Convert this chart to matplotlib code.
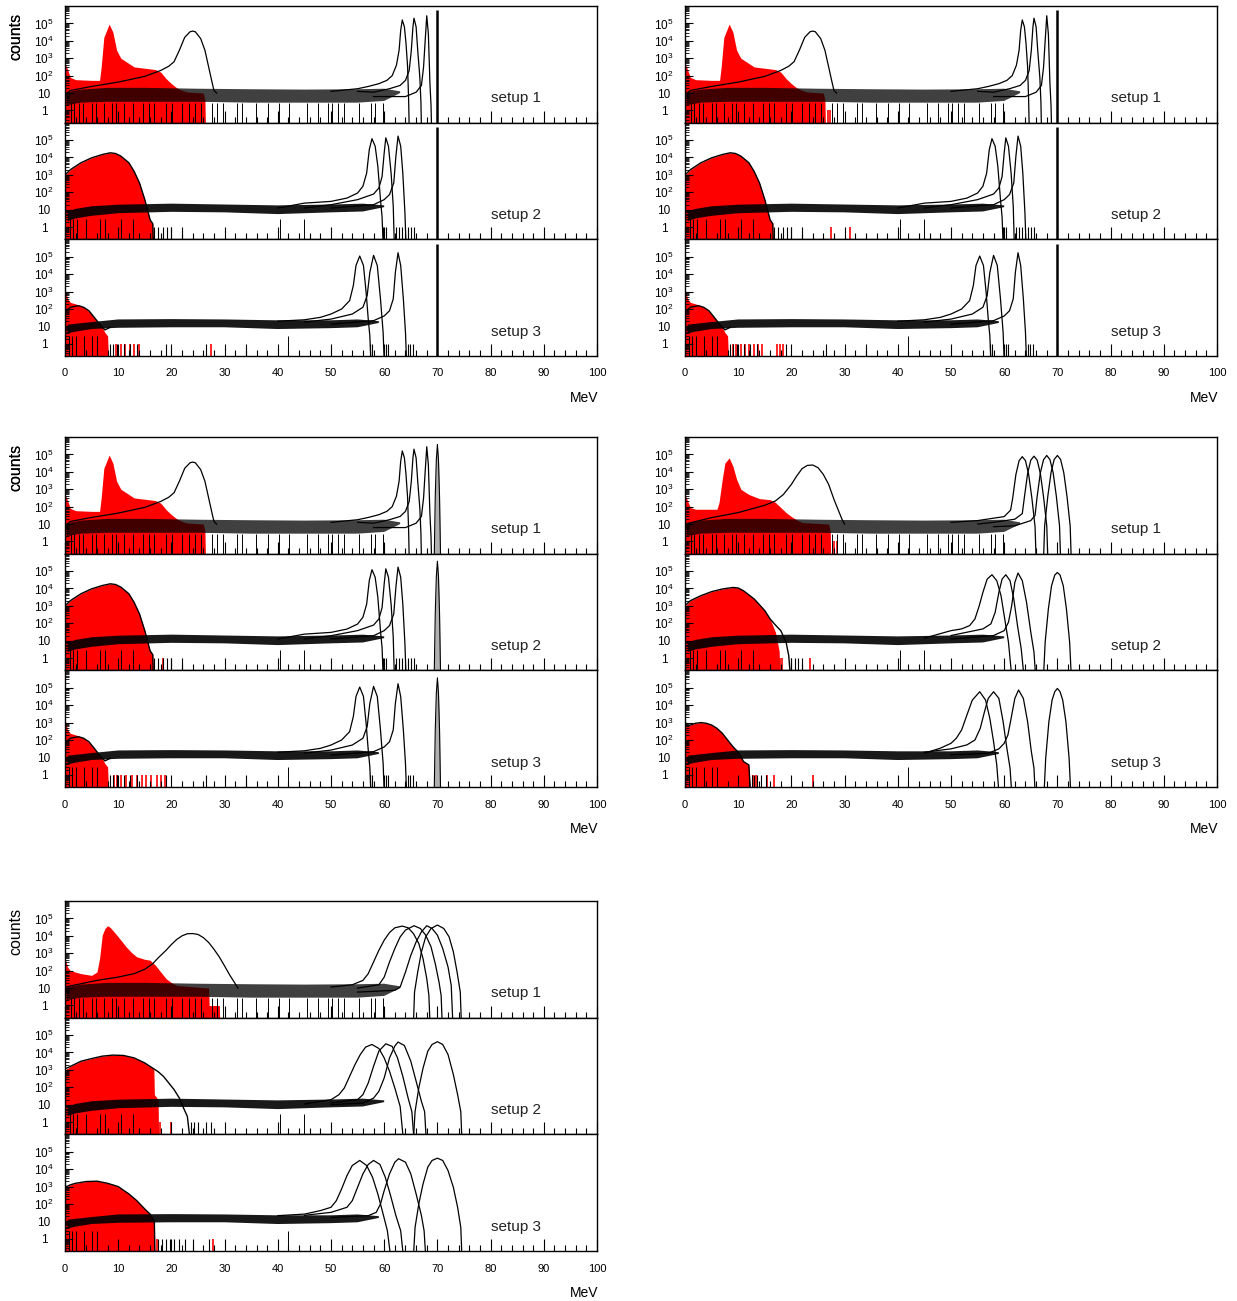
import numpy as np
import matplotlib.pyplot as plt
from matplotlib.ticker import MultipleLocator, LogLocator, NullFormatter

plt.rcParams['font.family'] = ['Liberation Sans', 'DejaVu Sans']
plt.rcParams['mathtext.fontset'] = 'custom'
plt.rcParams['mathtext.rm'] = 'Liberation Sans'
plt.rcParams['mathtext.it'] = 'Liberation Sans:italic'
plt.rcParams['mathtext.bf'] = 'Liberation Sans:bold'

W, H = 1237, 1301
YMIN, YMAX = 0.2, 1.0e6
E = -1.0   # log10 of an empty bin (falls below the axis)

# all curves: (MeV, log10 counts)

# ---- narrow resolution (top row + middle left) ----
red_n1 = [(0, 2.7), (0.3, 2.5), (1, 1.9), (2, 1.77), (5, 1.73), (6.5, 1.73), (6.8, 2.5), (7.3, 4.2),
          (8.3, 4.96), (9.0, 4.5), (9.7, 3.46), (10.5, 3.0), (12, 2.7), (13, 2.5), (17, 2.35), (18, 2.2),
          (19, 1.83), (20, 1.54), (21, 1.3), (22, 1.15), (23, 1.06), (26, 1.0), (26.3, 0.6), (26.4, E)]
a_n = [(0, 0.9), (1, 1.15), (5, 1.38), (10, 1.63), (15, 1.96), (18, 2.3), (19.5, 2.54), (20.5, 2.8),
       (21.5, 3.46), (22.5, 4.2), (23.5, 4.52), (24, 4.56), (24.5, 4.52), (25.5, 4.13), (26.3, 3.46),
       (27, 2.5), (27.7, 1.54), (28, 1.15), (28.5, 1.0)]
b_n1 = [(50, 1.1), (55, 1.25), (57, 1.38), (59, 1.54), (60.5, 1.73), (61.5, 2.0), (62.3, 2.6), (62.8, 3.46),
        (63.1, 4.6), (63.4, 5.2), (63.8, 4.8), (64.1, 3.85), (64.4, 2.5), (64.6, 0.5), (64.7, E)]
c_n1 = [(55, 1.1), (58, 1.05), (61, 1.25), (63, 1.44), (64, 1.73), (64.7, 2.3), (65.1, 3.46), (65.4, 4.8),
        (65.6, 5.3), (66.0, 4.8), (66.3, 3.46), (66.7, 1.9), (66.9, 0.5), (67.0, E)]
d_n1 = [(58, 0.8), (64, 0.8), (66, 1.05), (67, 1.44), (67.4, 2.5), (67.7, 4.0), (68.0, 5.44), (68.3, 4.4),
        (68.6, 1.54), (68.8, 0.3), (68.9, E)]

red_n2 = [(0, 3.0), (1, 3.3), (3, 3.7), (5, 3.98), (7, 4.17), (8.5, 4.27), (9.5, 4.23), (10.5, 4.08),
          (12, 3.7), (13, 3.2), (14, 2.54), (15, 1.58), (15.5, 1.0), (16, 0.42), (16.5, 0.2), (16.6, E)]
b_n2 = [(40, 1.1), (45, 1.38), (50, 1.48), (53, 1.67), (55, 1.96), (56, 2.35), (56.7, 3.1), (57.2, 4.46),
        (57.7, 5.08), (58.3, 4.65), (58.8, 3.5), (59.3, 1.58), (59.6, 0.6), (59.8, E)]
c_n2 = [(45, 1.1), (50, 1.29), (55, 1.58), (58, 1.9), (59, 2.25), (59.6, 2.9), (60, 4.27), (60.3, 5.13),
        (60.8, 4.65), (61.3, 3.1), (61.7, 1.2), (61.9, E)]
d_n2 = [(50, 1.1), (58, 1.29), (60, 1.58), (61, 1.87), (61.8, 2.54), (62.2, 4.08), (62.6, 5.23),
        (63.1, 4.65), (63.5, 3.1), (63.9, 0.8), (64.1, E)]

red_n3 = [(0, 3.15), (0.5, 2.58), (1, 2.38), (2, 2.29), (3, 2.19), (4, 2.0), (5, 1.71), (6, 1.33),
          (7, 0.94), (7.5, 0.65), (8, 0.46), (8.2, E)]
out_n3 = [(0.2, 1.9), (1, 2.1), (2.5, 2.19), (3.5, 2.1), (4.5, 1.9), (5.5, 1.52), (6.5, 1.13),
          (7.5, 0.8), (8.5, 0.95)]
b_n3 = [(40, 1.3), (45, 1.38), (48, 1.52), (50, 1.71), (52, 2.0), (53.5, 2.48), (54.2, 3.35), (54.7, 4.5),
        (55.4, 5.04), (56.1, 4.5), (56.6, 2.96), (57.0, 1.42), (57.3, 0.46), (57.5, E)]
c_n3 = [(45, 1.25), (50, 1.42), (54, 1.71), (56, 2.1), (56.8, 2.77), (57.3, 4.1), (58.0, 5.08),
        (58.7, 4.5), (59.3, 2.58), (59.8, 0.65), (60.0, E)]
d_n3 = [(50, 1.13), (58, 1.33), (60, 1.6), (61, 1.9), (61.7, 2.58), (62.1, 4.1), (62.6, 5.23),
        (63.1, 4.5), (63.6, 2.58), (64.0, 0.65), (64.2, E)]

delta_top = 5.75
narrow70 = [(69.4, E), (69.6, 2.6), (69.8, 4.7), (70.0, 5.57), (70.2, 4.7), (70.4, 2.6), (70.6, E)]

# ---- medium resolution (middle right) ----
red_m1 = [(0, 2.7), (1, 1.95), (2, 1.85), (6, 1.85), (6.4, 2.24), (7, 3.57), (7.5, 4.5), (8.3, 4.8),
          (9, 4.33), (9.7, 3.57), (10.5, 3.0), (12, 2.7), (14, 2.46), (16, 2.4), (17, 2.24), (18, 1.95),
          (19, 1.66), (20, 1.43), (21, 1.24), (22, 1.09), (27, 1.0), (27.3, 0.6), (27.4, E)]
a_m = [(0, 1.0), (5, 1.37), (10, 1.66), (15, 2.08), (17, 2.33), (18.5, 2.7), (20, 3.28), (21, 3.76),
       (22, 4.18), (23, 4.37), (24, 4.39), (25, 4.24), (26, 3.85), (27, 3.28), (28, 2.42), (29, 1.66),
       (29.5, 1.28), (30, 1.0)]
b_m1 = [(50, 1.1), (55, 1.2), (60, 1.43), (61.2, 1.8), (61.6, 2.5), (62.2, 3.85), (62.8, 4.64), (63.4, 4.87),
        (64.0, 4.64), (64.6, 3.85), (65.2, 2.5), (65.8, 0.85), (66.0, E)]
c_m1 = [(55, 1.0), (58, 1.1), (62, 1.28), (63.4, 1.6), (63.8, 2.55), (64.4, 3.9), (65.0, 4.67), (65.6, 4.9),
        (66.2, 4.67), (66.8, 3.9), (67.4, 2.55), (68.0, 0.9), (68.2, E)]
d_m1 = [(58, 0.85), (62, 0.9), (65, 1.2), (65.8, 1.5), (66.2, 2.6), (66.8, 3.95), (67.4, 4.7), (68.0, 4.94),
        (68.6, 4.7), (69.2, 3.95), (69.8, 2.6), (70.4, 0.9), (70.6, E)]
e_m1 = [(67.4, E), (67.6, 0.9), (68.2, 2.6), (68.8, 3.95), (69.4, 4.71), (70.0, 4.94), (70.6, 4.71),
        (71.2, 3.95), (71.8, 2.6), (72.4, 0.9), (72.6, E)]

red_m2 = [(0, 3.0), (1, 3.3), (3, 3.59), (5, 3.82), (7, 3.97), (9, 4.06), (10, 4.03), (11, 3.87), (13, 3.4),
          (15, 2.73), (16, 2.25), (17, 1.49), (17.5, 0.73), (17.7, 0.4), (17.8, E)]
out_m2 = [(0.3, 3.1), (1, 3.3), (3, 3.59), (5, 3.82), (7, 3.97), (9, 4.06), (10, 4.03), (11, 3.87),
          (13, 3.4), (15, 2.73), (16, 2.25), (17, 1.9), (18, 1.58), (19, 0.92), (19.5, 0.15), (19.8, E)]
b_m2 = [(45, 1.15), (50, 1.58), (52, 1.68), (53.5, 1.87), (54.5, 2.25), (55.3, 3.0), (56, 3.78),
        (56.8, 4.54), (57.7, 4.79), (58.6, 4.45), (59.4, 3.59), (60.1, 2.25), (60.8, 0.92), (61.4, E)]
c_m2 = [(50, 1.3), (56, 1.68), (57.5, 1.97), (58.3, 2.63), (59, 3.78), (59.6, 4.54), (60.3, 4.79),
        (61.1, 4.45), (61.8, 3.4), (62.5, 1.87), (63.2, 0.53), (63.7, E)]
d_m2 = [(50, 1.1), (58, 1.3), (60, 1.58), (60.8, 2.06), (61.4, 3.0), (62, 4.35), (62.6, 4.89), (63.4, 4.45),
        (64.2, 3.2), (65, 1.49), (65.6, 0.34), (65.9, E)]
e_m2 = [(67.4, E), (67.7, 0.92), (68.3, 2.82), (68.9, 4.16), (69.5, 4.77), (70, 4.92), (70.5, 4.77),
        (71.1, 4.16), (71.7, 2.82), (72.3, 0.92), (72.6, E)]

red_m3 = [(0, 3.05), (0.5, 2.77), (1, 2.86), (2, 2.96), (3, 3.0), (4, 2.96), (5, 2.86), (6, 2.67), (7, 2.39),
          (8, 2.0), (9, 1.62), (10, 1.3), (10.5, 1.05), (11, 0.76), (12, 0.57), (12.3, E)]
b_m3 = [(45, 1.24), (48, 1.53), (50, 1.81), (51, 2.1), (52, 2.58), (53, 3.44), (54, 4.29), (55.4, 4.77),
        (56.5, 4.29), (57.3, 3.24), (58, 1.91), (58.6, 0.57), (59, E)]
c_m3 = [(45, 1.3), (50, 1.49), (53, 1.72), (54.5, 2.0), (55.5, 2.67), (56.3, 3.63), (57, 4.39), (58, 4.77),
        (59, 4.39), (59.8, 3.05), (60.5, 1.53), (61.1, 0.38), (61.4, E)]
d_m3 = [(50, 1.15), (57, 1.24), (59, 1.49), (60, 1.81), (60.7, 2.29), (61.3, 3.24), (62, 4.39), (62.7, 4.87),
        (63.6, 4.39), (64.4, 3.05), (65.1, 1.34), (65.6, 0.38), (65.8, E)]
e_m3 = [(67.5, E), (67.8, 0.95), (68.4, 3.05), (69, 4.29), (69.5, 4.77), (70, 4.96), (70.5, 4.77),
        (71, 4.29), (71.6, 3.05), (72.2, 0.95), (72.5, E)]

# ---- wide resolution (bottom) ----
red_w1 = [(0, 2.7), (0.5, 2.2), (1, 2.0), (3, 1.83), (5, 1.73), (6, 1.92), (6.5, 2.7), (7, 4.04), (7.5, 4.42),
          (8, 4.58), (8.5, 4.48), (9.5, 4.13), (10.5, 3.75), (11.5, 3.37), (12.5, 3.04), (13.5, 2.79),
          (15, 2.65), (16, 2.6), (17, 2.31), (18, 1.92), (19, 1.54), (20, 1.31), (21, 1.15), (27, 1.0),
          (27.1, 0.0), (29, 0.0), (29.1, E)]
a_w = [(0, 1.06), (3, 1.25), (6, 1.44), (10, 1.63), (13, 1.83), (15, 2.08), (16.5, 2.4), (17.5, 2.73),
       (19, 3.17), (20, 3.5), (21, 3.79), (22, 4.0), (23, 4.12), (24, 4.13), (25, 4.08), (26, 3.9),
       (27, 3.62), (28, 3.23), (29, 2.79), (30, 2.27), (31, 1.73), (32, 1.25), (32.5, 1.0)]
b_w1 = [(50, 1.06), (54, 1.19), (56, 1.44), (57, 1.83), (58, 2.5), (59, 3.17), (60, 3.75), (61, 4.19),
        (62, 4.46), (63.4, 4.56), (64.5, 4.46), (65.5, 4.13), (66.5, 3.56), (67.3, 2.69), (68, 1.54),
        (68.4, 0.58), (68.6, E)]
c_w1 = [(55, 1.0), (59, 1.19), (60, 1.63), (61, 2.5), (62, 3.27), (63, 3.94), (64, 4.33), (65.6, 4.58),
        (66.8, 4.42), (67.8, 4.04), (68.8, 3.37), (69.6, 2.4), (70.3, 1.35), (70.7, 0.58), (70.9, E)]
d_w1 = [(55, 0.77), (62, 0.87), (63, 1.06), (64, 1.92), (65, 2.88), (66, 3.65), (67, 4.23), (68, 4.58),
        (69, 4.42), (70, 4.04), (71, 3.27), (72, 2.21), (72.6, 1.15), (72.9, E)]
e_w1 = [(65.5, E), (65.7, 0.77), (66.3, 1.92), (67, 3.08), (67.8, 3.94), (68.8, 4.42), (70, 4.62),
        (71.2, 4.42), (72.2, 3.94), (73, 3.08), (73.7, 1.92), (74.3, 0.77), (74.5, E)]

red_w2 = [(0, 3.0), (1, 3.2), (3, 3.5), (5, 3.65), (7, 3.79), (9, 3.85), (11, 3.83), (13, 3.69), (15, 3.4),
          (16.5, 3.1), (16.7, 3.05), (16.8, 1.58), (17.5, 1.3), (17.6, E)]
out_w2 = [(0.3, 3.1), (1, 3.2), (3, 3.5), (5, 3.65), (7, 3.79), (9, 3.85), (11, 3.83), (13, 3.69), (15, 3.4),
          (16.5, 3.1), (17.5, 2.9), (18.5, 2.63), (19.5, 2.25), (20.5, 1.87), (21.5, 1.38), (22.3, 0.8),
          (23, 0.33), (23.5, E)]
b_w2 = [(45, 1.04), (50, 1.29), (51.5, 1.58), (52.5, 1.96), (53.5, 2.63), (54.5, 3.3), (55.5, 3.88),
        (56.5, 4.31), (57.7, 4.46), (59, 4.23), (60, 3.69), (61, 2.92), (62, 1.96), (63, 0.9), (63.6, E)]
c_w2 = [(50, 1.1), (55, 1.29), (56, 1.58), (57, 2.25), (58, 3.21), (59, 4.08), (60.3, 4.5), (61.5, 4.35),
        (62.5, 3.69), (63.5, 2.63), (64.5, 1.38), (65.2, 0.6), (65.6, E)]
d_w2 = [(50, 1.0), (56, 1.1), (58, 1.38), (59, 1.77), (60, 2.54), (61, 3.69), (62, 4.37), (62.6, 4.6),
        (63.8, 4.4), (65, 3.5), (66, 2.35), (67, 1.19), (67.6, 0.6), (67.9, E)]
e_w2 = [(65.5, E), (65.8, 0.6), (66.5, 1.96), (67.3, 3.1), (68.2, 4.08), (69, 4.46), (70, 4.62), (71, 4.46),
        (72, 3.88), (73, 2.73), (73.8, 1.58), (74.4, 0.6), (74.6, E)]

red_w3 = [(0, 2.96), (1, 3.1), (2, 3.19), (4, 3.29), (6, 3.31), (8, 3.19), (10, 3.0), (12, 2.58),
          (13.5, 2.19), (15, 1.71), (16, 1.42), (16.6, 1.13), (16.8, 1.0), (16.9, E)]
b_w3 = [(40, 1.33), (45, 1.42), (48, 1.62), (50, 1.81), (51, 2.19), (52, 2.87), (53, 3.63), (54, 4.21),
        (55.4, 4.5), (56.7, 4.21), (57.8, 3.54), (58.8, 2.58), (59.8, 1.42), (60.6, 0.46), (61.2, E)]
c_w3 = [(45, 1.35), (50, 1.52), (53, 1.81), (54, 2.19), (55, 2.96), (56, 3.73), (57, 4.27), (58, 4.5),
        (59.2, 4.27), (60.2, 3.54), (61.2, 2.48), (62.2, 1.33), (63.1, 0.46), (63.6, E)]
d_w3 = [(50, 1.23), (57, 1.33), (58.5, 1.52), (59.3, 2.0), (60, 2.77), (61, 3.73), (62, 4.4), (62.7, 4.6),
        (64, 4.4), (65, 3.73), (66, 2.58), (67, 1.33), (67.5, 0.46), (67.8, E)]
e_w3 = [(65.5, E), (65.8, 0.65), (66.5, 2.0), (67.3, 3.15), (68.2, 4.12), (69, 4.5), (70, 4.63), (71, 4.5),
        (72, 3.92), (73, 2.96), (73.8, 1.81), (74.4, 0.65), (74.6, E)]

# noisy flat band (~10 counts): x, lower edge, upper edge (log10); tapers into the peak tails
band1_x = [0.3, 3, 8, 15, 25, 35, 45, 55, 60, 63]
band1_lo = [0.3, 0.45, 0.5, 0.5, 0.5, 0.45, 0.45, 0.45, 0.55, 1.0]
band1_hi = [1.05, 1.2, 1.3, 1.3, 1.25, 1.22, 1.2, 1.22, 1.25, 1.1]
band2_x = [0.5, 2, 5, 10, 20, 30, 40, 50, 56, 60]
band2_lo = [0.35, 0.5, 0.65, 0.8, 0.88, 0.85, 0.75, 0.85, 0.9, 1.15]
band2_hi = [0.9, 1.05, 1.2, 1.29, 1.35, 1.3, 1.25, 1.3, 1.35, 1.25]
band3_x = [0.5, 2, 5, 10, 20, 30, 40, 50, 55, 59]
band3_lo = [0.6, 0.7, 0.85, 0.92, 0.95, 0.95, 0.85, 0.9, 0.95, 1.2]
band3_hi = [1.1, 1.15, 1.25, 1.4, 1.42, 1.4, 1.35, 1.35, 1.4, 1.3]

# empty bins inside the band (MeV)
gap1 = [1.1, 1.6, 2.6, 3.4, 5.1, 5.9, 7.3, 8.8, 9.6, 11.0, 12.8, 14.6, 15.8, 16.8, 19.0, 20.1, 21.9, 23.4,
        24.5, 25.6, 27.7, 28.6, 29.7, 32.4, 33.3, 35.9, 38.1, 40.3, 42.1, 45.4, 47.5, 49.5, 50.2, 51.3,
        52.4, 55.3, 57.5, 58.2, 59.7]
gap2 = [1.0, 1.5, 2.3, 4.0, 6.5, 7.5, 10.5, 12.8, 40.5, 45.0]
gap3 = [0.8, 1.3, 2.0, 3.5, 5.0, 6.0, 42.0]

# single-count bins (MeV)
single2_n = [16.8, 17.5, 18.5, 19.2, 20.0, 22.0, 59.8, 60.4, 62.3, 62.8, 63.4, 64.5, 65.0, 65.6]
single3_n = [8.5, 9.0, 9.8, 11.0, 12.2, 13.5, 19.0, 26.5, 34.0, 57.4, 57.8, 60.3, 60.8, 64.4, 64.9, 65.4]
single2_m = [20.0, 20.6, 21.3, 22.0]
single3_m = [12.6, 13.0, 13.6, 14.3, 15.2]
single2_w = [23.6, 24.2, 25.0, 26.5, 27.5]
single3_w = [17.5, 18.2, 19.0, 19.8, 20.5, 21.5, 22.5, 24.0, 27.0]

# red single-count bins per setup
rsp_g1 = [[], [], [9.5, 10.5, 11.3, 12.2, 13.0, 14.0, 27.5]]
rsp_g2 = [[26.8, 27.2], [27.5, 31.0], [9.0, 9.6, 10.5, 11.2, 12.0, 13.0, 13.8, 14.5, 17.3, 17.8, 18.4]]
rsp_g3 = [[], [18.5], [9.2, 9.8, 10.6, 11.5, 12.5, 13.5, 14.5, 15.3, 16.2, 17.2, 18.0, 18.8]]
rsp_g4 = [[28.0, 28.5], [17.9, 18.3, 23.5], [12.8, 13.3, 15.5, 16.8, 24.0]]
rsp_g5 = [[], [17.8, 20.0], [17.2, 27.8]]

ytick_vals = [1, 10, 1e2, 1e3, 1e4, 1e5]
ytick_text = ['1', '10', r'$10^{2}$', r'$10^{3}$', r'$10^{4}$', r'$10^{5}$']
setup_names = ['setup 1', 'setup 2', 'setup 3']


def xy(points):
    a = np.array(points, dtype=float)
    return a[:, 0], 10 ** a[:, 1]


def narrow_setups(rsp, extra):
    return [
        dict(red=red_n1, out=None, curves=[a_n, b_n1, c_n1, d_n1], singles=[], rsp=rsp[0], extra=extra),
        dict(red=red_n2, out=red_n2, curves=[b_n2, c_n2, d_n2], singles=single2_n, rsp=rsp[1], extra=extra),
        dict(red=red_n3, out=out_n3, curves=[b_n3, c_n3, d_n3], singles=single3_n, rsp=rsp[2], extra=extra),
    ]


groups = [
    ((65, 6), narrow_setups(rsp_g1, 'delta')),
    ((685, 6), narrow_setups(rsp_g2, 'delta')),
    ((65, 437), narrow_setups(rsp_g3, 'narrow')),
    ((685, 437), [
        dict(red=red_m1, out=None, curves=[a_m, b_m1, c_m1, d_m1, e_m1], singles=[], rsp=rsp_g4[0], extra=None),
        dict(red=red_m2, out=out_m2, curves=[b_m2, c_m2, d_m2, e_m2], singles=single2_m, rsp=rsp_g4[1], extra=None),
        dict(red=red_m3, out=red_m3, curves=[b_m3, c_m3, d_m3, e_m3], singles=single3_m, rsp=rsp_g4[2], extra=None),
    ]),
    ((65, 901), [
        dict(red=red_w1, out=None, curves=[a_w, b_w1, c_w1, d_w1, e_w1], singles=[], rsp=rsp_g5[0], extra=None),
        dict(red=red_w2, out=out_w2, curves=[b_w2, c_w2, d_w2, e_w2], singles=single2_w, rsp=rsp_g5[1], extra=None),
        dict(red=red_w3, out=red_w3, curves=[b_w3, c_w3, d_w3, e_w3], singles=single3_w, rsp=rsp_g5[2], extra=None),
    ]),
]

bands = [(band1_x, band1_lo, band1_hi), (band2_x, band2_lo, band2_hi), (band3_x, band3_lo, band3_hi)]
gaps = [gap1, gap2, gap3]

AX_W, GROUP_H = 532, 350
SUB_H = GROUP_H / 3.0

fig = plt.figure(figsize=(W / 100, H / 100), dpi=100)

for (left, top), setups in groups:
    for s, spec in enumerate(setups):
        y0 = top + (s + 1) * SUB_H
        ax = fig.add_axes([left / W, 1 - y0 / H, AX_W / W, SUB_H / H])

        x, y = xy(spec['red'])
        ax.fill_between(x, y, 0.01, color='red', lw=0, zorder=1)
        if spec['rsp']:
            ax.vlines(spec['rsp'], 0.01, 1.0, color='red', lw=1.2, zorder=1)

        bx, lo, hi = bands[s]
        ax.fill_between(bx, 10 ** np.array(lo), 10 ** np.array(hi), facecolor='black',
                        alpha=0.75 if s == 0 else 0.9, lw=0, zorder=2)
        ax.vlines(gaps[s], 0.01, 10 ** 0.45, color='black', lw=0.7, zorder=2)
        if spec['singles']:
            ax.vlines(spec['singles'], 0.01, 1.0, color='black', lw=0.8, zorder=2)

        if spec['out'] is not None:
            x, y = xy(spec['out'])
            ax.plot(x, y, color='black', lw=1.0, zorder=3)
        for c in spec['curves']:
            x, y = xy(c)
            ax.plot(x, y, color='black', lw=0.9, zorder=3)

        if spec['extra'] == 'delta':
            ax.vlines(70, 0.01, 10 ** delta_top, color='black', lw=1.8, zorder=3)
        elif spec['extra'] == 'narrow':
            x, y = xy(narrow70)
            ax.fill_between(x, y, 0.01, color='#b0b0b0', lw=0, zorder=3)
            ax.plot(x, y, color='black', lw=0.8, zorder=4)

        ax.set_xlim(0, 100)
        ax.set_yscale('log')
        ax.set_ylim(YMIN, YMAX)
        ax.xaxis.set_major_locator(MultipleLocator(10))
        ax.xaxis.set_minor_locator(MultipleLocator(2))
        ax.set_yticks(ytick_vals, ytick_text, ha='center', fontsize=8.5)
        ax.yaxis.set_minor_locator(LogLocator(base=10, subs=np.arange(2, 10), numticks=30))
        ax.yaxis.set_minor_formatter(NullFormatter())
        ax.tick_params(axis='x', which='major', direction='in', length=9, width=0.8,
                       labelsize=8, pad=9)
        ax.tick_params(axis='x', which='minor', direction='in', length=4.5, width=0.8)
        ax.tick_params(axis='y', which='major', direction='in', length=6, width=0.8, pad=15)
        ax.tick_params(axis='y', which='minor', direction='in', length=3, width=0.6)
        if s < 2:
            ax.tick_params(axis='x', labelbottom=False)
        for sp in ax.spines.values():
            sp.set_linewidth(1.0)
            sp.set_zorder(5)

        ax.text(80, 10 ** 0.69, setup_names[s], fontsize=11, ha='left', va='center', color='#222222')

    fig.text(16 / W, 1 - (top + 30) / H, 'counts', rotation=90, ha='center', va='center', fontsize=11.5)
    fig.text((left + AX_W + 1) / W, 1 - (top + GROUP_H + 42) / H, 'MeV', ha='right', va='center', fontsize=10)

fig.savefig('out.png', dpi=100)
